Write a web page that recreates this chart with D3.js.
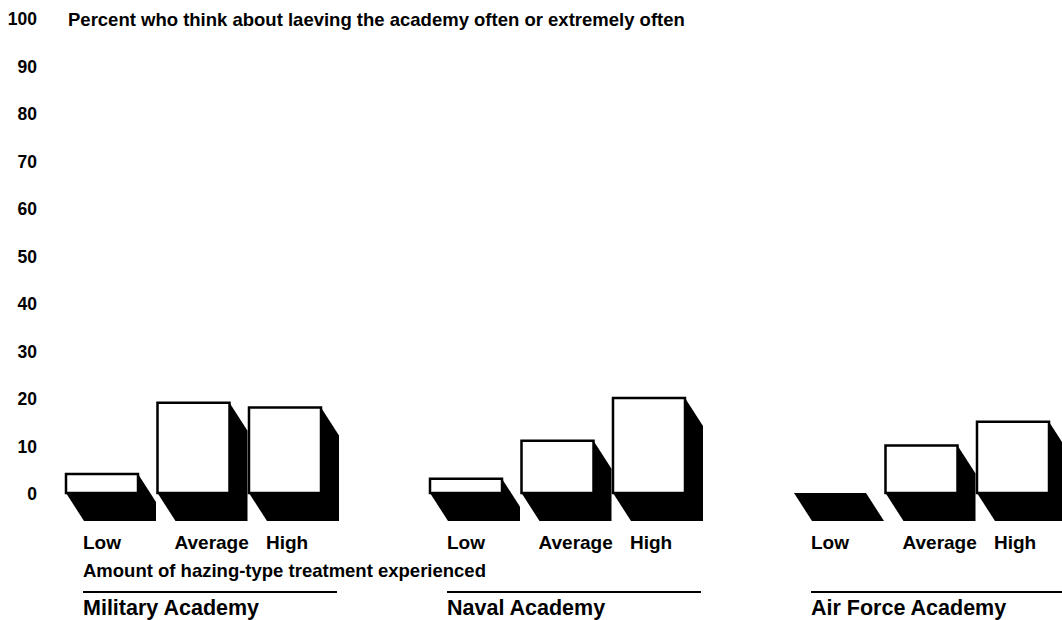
<!DOCTYPE html>
<html>
<head>
<meta charset="utf-8">
<script src="https://cdn.jsdelivr.net/npm/d3@7"></script>
<style>
  body { margin: 0; background: #fff; }
  text { font-family: "Liberation Sans", Arial, Helvetica, sans-serif; font-weight: bold; fill: #000; }
</style>
</head>
<body>
<div id="chart"></div>
<script>
// data
var academies = ["Military Academy", "Naval Academy", "Air Force Academy"];
var levels = ["Low", "Average", "High"];
var military = [4, 19, 18];
var naval = [3, 11, 20];
var airForce = [0, 10, 15];
var yTicks = [0, 10, 20, 30, 40, 50, 60, 70, 80, 90, 100];
var title = "Percent who think about laeving the academy often or extremely often";
var xTitle = "Amount of hazing-type treatment experienced";

var values = [military, naval, airForce];

var width = 1062, height = 620;
var depth = {x: 18, y: 28};  // shadow offset

var svg = d3.select("#chart")
    .append("svg")
    .attr("width", width)
    .attr("height", height);

var y = d3.scaleLinear().domain([0, 100]).range([493, 18]);

var xGroup = d3.scaleBand().domain(academies).range([66, 66 + 3 * 364]);
var xLevel = d3.scaleBand().domain(levels).range([0, 255]).paddingInner(0.213);

// y tick labels
svg.selectAll(".ytick")
    .data(yTicks)
    .enter().append("text")
    .attr("class", "ytick")
    .attr("x", 37)
    .attr("y", function(d) { return y(d) + 1; })
    .attr("dy", "0.36em")
    .attr("text-anchor", "end")
    .style("font-size", "17.5px")
    .text(function(d) { return d; });

svg.append("text")
    .attr("x", 68)
    .attr("y", y(100) + 1)
    .attr("dy", "0.36em")
    .style("font-size", "18.5px")
    .text(title);

academies.forEach(function(a, gi) {
    var g = svg.append("g").attr("transform", "translate(" + xGroup(a) + ",0)");
    var bw = xLevel.bandwidth();

    levels.forEach(function(lv, li) {
        var v = values[gi][li];
        var x0 = xLevel(lv), x1 = x0 + bw;
        var yt = y(v), yb = y(0);

        // black extruded shadow
        var pts = [[x0, yt], [x1, yt], [x1 + depth.x, yt + depth.y],
                   [x1 + depth.x, yb + depth.y], [x0 + depth.x, yb + depth.y], [x0, yb]];
        g.append("polygon")
            .attr("points", pts.map(function(p) { return p.join(","); }).join(" "))
            .attr("fill", "#000");

        // white front face
        if (v > 0) {
            g.append("rect")
                .attr("x", x0)
                .attr("y", yt)
                .attr("width", bw)
                .attr("height", yb - yt)
                .attr("fill", "#fff")
                .attr("stroke", "#000")
                .attr("stroke-width", 2.5);
        }

        g.append("text")
            .attr("x", x0 + 17)
            .attr("y", 549)
            .style("font-size", "19px")
            .text(lv);
    });

    if (gi == 0) {
        g.append("text")
            .attr("x", 17)
            .attr("y", 577)
            .style("font-size", "18.5px")
            .text(xTitle);
    }

    g.append("line")
        .attr("x1", 17)
        .attr("x2", 271)
        .attr("y1", 592)
        .attr("y2", 592)
        .attr("stroke", "#000")
        .attr("stroke-width", 2);

    g.append("text")
        .attr("x", 17)
        .attr("y", 615)
        .style("font-size", "21.5px")
        .text(a);
});
</script>
</body>
</html>
